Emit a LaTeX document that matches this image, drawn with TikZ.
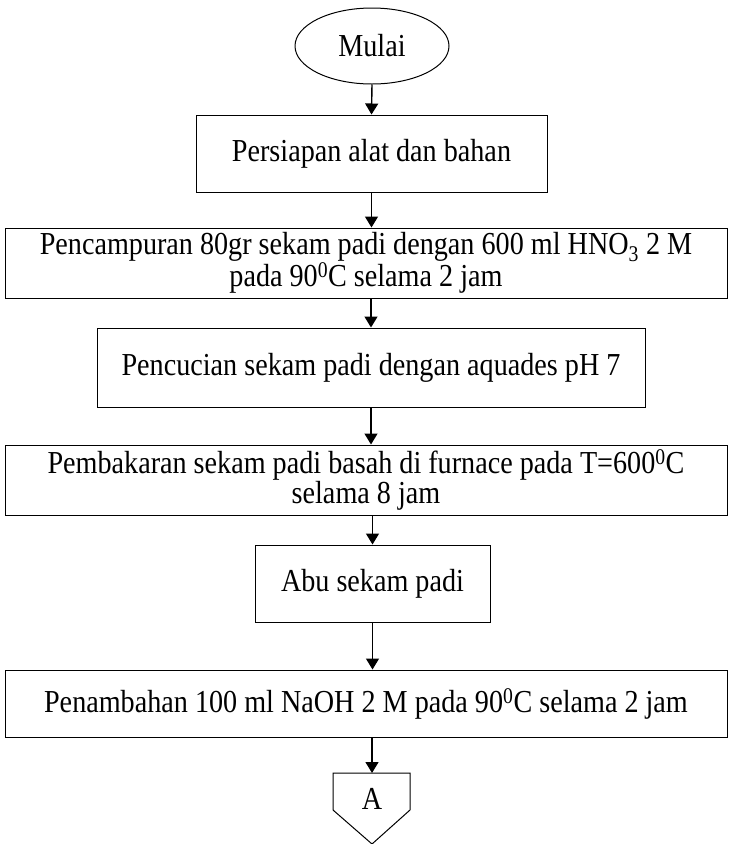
\documentclass[tikz,border=0pt]{standalone}
\usepackage{fontspec}
\setmainfont{Liberation Serif}[FakeStretch=0.88]
\usetikzlibrary{arrows.meta,shapes.geometric}
\begin{document}
\begin{tikzpicture}[x=1pt,y=-1pt,
  txt/.style={font={\fontsize{32}{29}\selectfont}},
  box/.style={draw,line width=1pt,inner sep=0pt,align=center,txt},
  arr/.style={-{Triangle[width=13pt,length=11pt]},line width=1.4pt}]
\useasboundingbox (0,0) rectangle (730,844);
\node[box,ellipse,minimum width=154pt,minimum height=76pt] (start) at (372,46) {Mulai};
\node[box,minimum width=351pt,minimum height=77pt] (b1) at (371.5,153.5) {Persiapan alat dan bahan};
\node[box,minimum width=722pt,minimum height=70pt] (b2) at (366,263) {Pencampuran 80gr sekam padi dengan 600 ml HNO\textsubscript{3} 2 M\\pada 90\textsuperscript{0}C selama 2 jam};
\node[box,minimum width=548pt,minimum height=79pt] (b3) at (371,367.5) {Pencucian sekam padi dengan aquades pH 7};
\node[box,minimum width=722pt,minimum height=70pt] (b4) at (366,480) {Pembakaran sekam padi basah di furnace pada T=600\textsuperscript{0}C\\selama 8 jam};
\node[box,minimum width=235pt,minimum height=77pt] (b5) at (372.5,583.5) {Abu sekam padi};
\node[box,minimum width=722pt,minimum height=67pt] (b6) at (366,703.5) {Penambahan 100 ml NaOH 2 M pada 90\textsuperscript{0}C selama 2 jam};
\coordinate (atop) at (372,773);
\draw[line width=1pt] (333,773) -- (410,773) -- (410,810) -- (372,844) -- (333,810) -- cycle;
\node[txt] (a) at (372,799) {A};
\draw[arr] (start.south) -- (b1.north);
\draw[arr] (b1.south) -- (b2.north -| b1.south);
\draw[arr] (b2.south -| b3.north) -- (b3.north);
\draw[arr] (b3.south) -- (b4.north -| b3.south);
\draw[arr] (b4.south -| b5.north) -- (b5.north);
\draw[arr] (b5.south) -- (b6.north -| b5.south);
\draw[arr] (b6.south -| atop) -- (atop);
\end{tikzpicture}
\end{document}
